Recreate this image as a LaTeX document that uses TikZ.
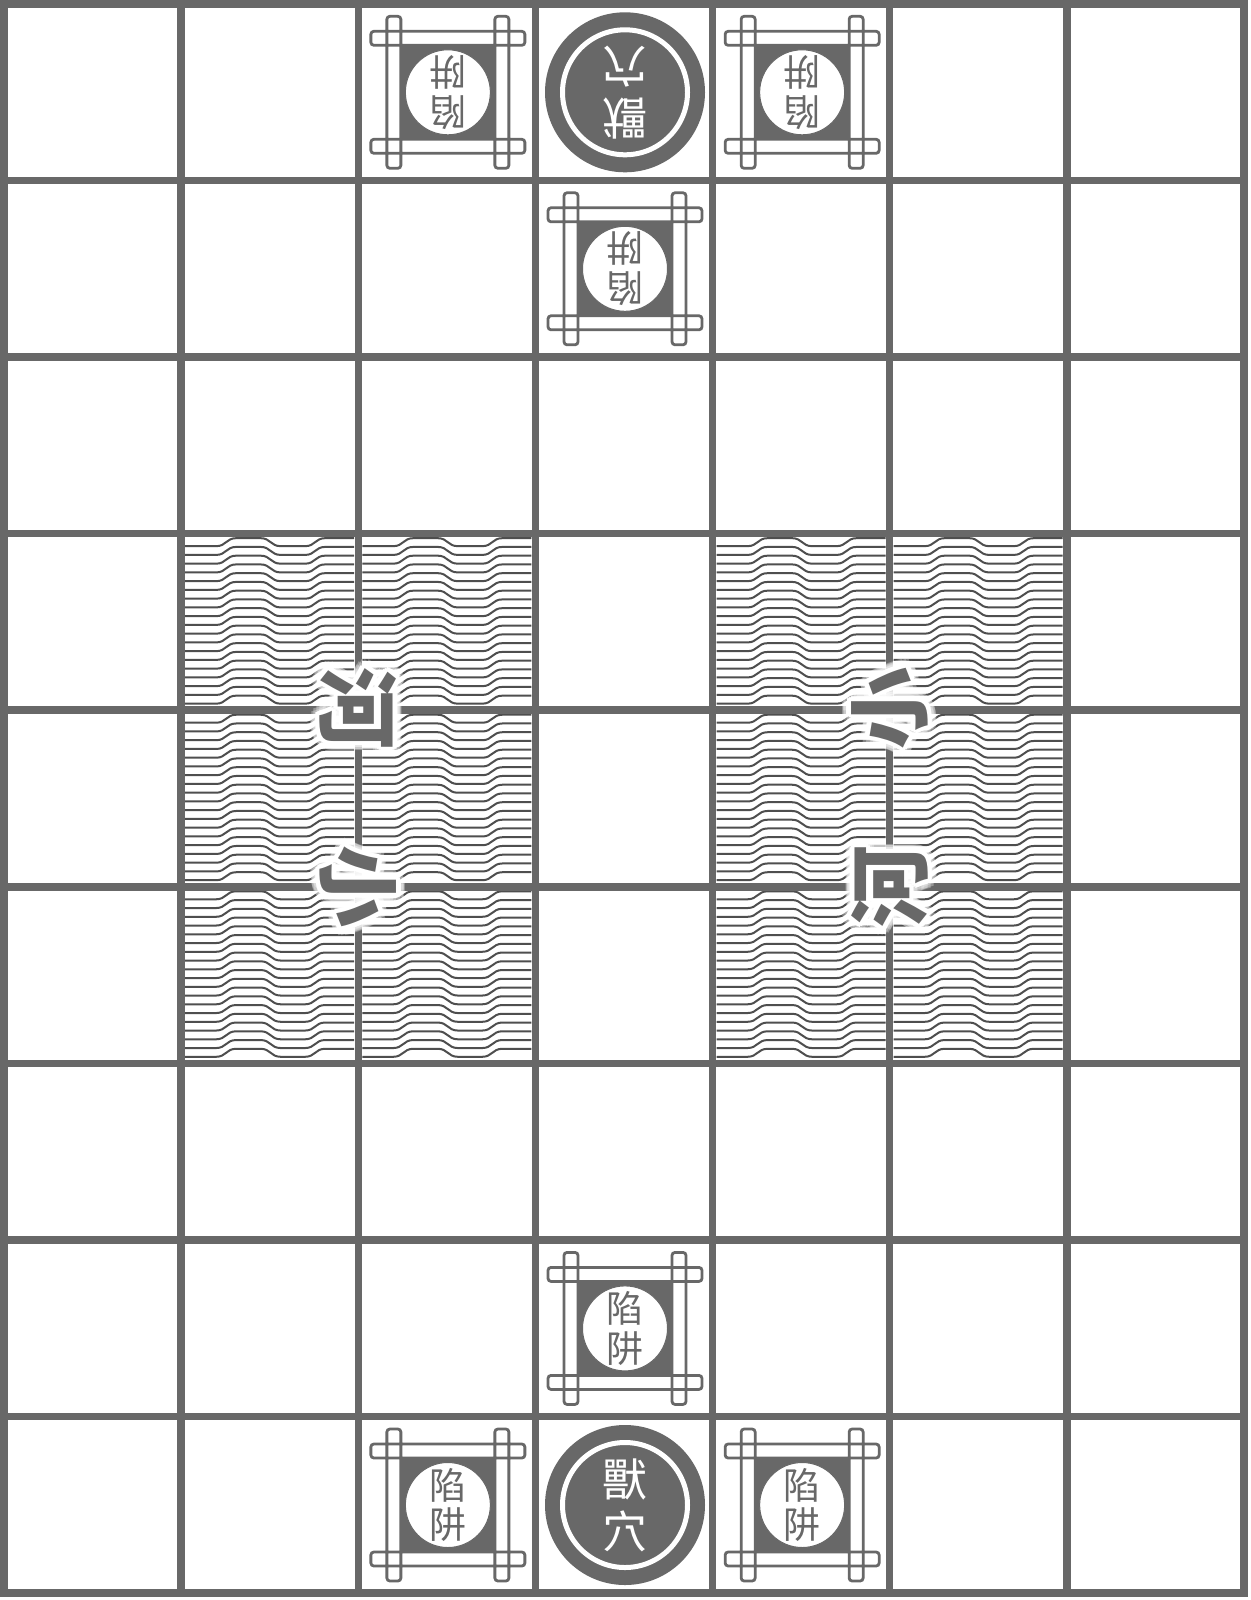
\documentclass[tikz,border=0pt]{standalone}
\usepackage{fontspec}
\newfontfamily\cjk{Noto Sans CJK TC}
\definecolor{lg}{RGB}{104,104,104}
\definecolor{wv}{RGB}{78,78,78}
\tikzset{
  gridline/.style={draw=lg, line width=3.75pt},
  wave/.style={draw=wv, line width=1pt},
  barline/.style={draw=lg, line width=1.4pt, rounded corners=1.5pt},
  trapch/.style={font=\cjk\fontsize{18.5}{18.5}\selectfont, text=lg, inner sep=0pt},
  dench/.style={font=\cjk\fontsize{22.5}{22.5}\selectfont, text=white, inner sep=0pt},
  rivch/.style={font=\cjk\bfseries\fontsize{41}{41}\selectfont, inner sep=0pt},
}
% trap: x y angle name
\newcommand\trapcell[4]{%
  \begin{scope}[shift={(#1,#2)}]
    \fill[lg] (-50,-50) rectangle (50,50);
    \fill[white] (-77,-61) rectangle (77,-47) (-77,47) rectangle (77,61)
                 (-61,-76) rectangle (-47,76) (47,-76) rectangle (61,76);
    \path[barline] (-77,-61) rectangle (77,-47) (-77,47) rectangle (77,61)
                 (-61,-76) rectangle (-47,76) (47,-76) rectangle (61,76);
    \filldraw[fill=white, draw=lg, line width=0.5pt] (0,0) circle[radius=42.5];
    \node[trapch, rotate=#3] (#4a) at (0,{-20*cos(#3)}) {陷};
    \node[trapch, rotate=#3] (#4b) at (0,{20*cos(#3)}) {阱};
  \end{scope}}
% den: x y angle name
\newcommand\dencell[4]{%
  \begin{scope}[shift={(#1,#2)}]
    \fill[lg] (0,0) circle[radius=80];
    \draw[white, line width=2.5pt] (0,0) circle[radius=62.5];
    \node[dench, rotate=#3] (#4a) at (0,{-26*cos(#3)}) {獸};
    \node[dench, rotate=#3] (#4b) at (0,{26*cos(#3)}) {穴};
  \end{scope}}
% river char: x y angle char name
\newcommand\rivchar[5]{%
  \foreach \a in {0,22.5,...,337.5}{\node[rivch, text=white, text opacity=0.3, rotate=#3] at ({#1+9*cos(\a)},{#2+9*sin(\a)}) {#4};}
  \foreach \a in {0,30,...,330}{\node[rivch, text=white, rotate=#3] at ({#1+4.5*cos(\a)},{#2+4.5*sin(\a)}) {#4};}
  \node[rivch, text=lg, rotate=#3] (#5) at (#1,#2) {#4};}

\begin{document}
\begin{tikzpicture}[x=0.5pt,y=-0.5pt]
\useasboundingbox (0,0) rectangle (1250,1600);
\fill[white] (0,0) rectangle (1250,1600);
% water
\foreach \c in {1,2,4,5}{\foreach \r in {3,4,5}{
  \pgfmathsetmacro\xo{4+177.143*\c}
  \pgfmathsetmacro\yo{4+176.556*\r}
  \begin{scope}
    \clip (\xo+4,\yo+4) rectangle (\xo+173,\yo+172.5);
    \foreach \k in {0,...,18}{
      \pgfmathsetmacro\yy{\yo+12.5+8.75*\k}
      \draw[wave] (\xo,\yy) -- ++(35,0) .. controls +(10,0) and +(-10,0) .. ++(20,-8)
        -- ++(24.5,0) .. controls +(10,0) and +(-10,0) .. ++(20,8)
        -- ++(24.5,0) .. controls +(10,0) and +(-10,0) .. ++(20,-8) -- ++(40,0);
    }
  \end{scope}
}}
% grid
\draw[gridline] (4,4) rectangle (1244,1593);
\foreach \i in {1,...,6}{\draw[gridline] ({4+177.143*\i},4) -- ({4+177.143*\i},1593);}
\foreach \j in {1,...,8}{\draw[gridline] (4,{4+176.556*\j}) -- (1244,{4+176.556*\j});}
% top side
\trapcell{447.86}{92.3}{180}{tA}
\trapcell{802.14}{92.3}{180}{tB}
\trapcell{625}{268.8}{180}{tC}
\dencell{625}{92.3}{180}{dT}
% bottom side
\trapcell{625}{1328.4}{0}{bC}
\trapcell{447.86}{1505}{0}{bA}
\trapcell{802.14}{1505}{0}{bB}
\dencell{625}{1505}{0}{dB}
% river labels
\rivchar{358.3}{708}{-90}{河}{rL1}
\rivchar{358.3}{886.8}{-90}{小}{rL2}
\rivchar{889.7}{708}{90}{小}{rR1}
\rivchar{889.7}{886.8}{90}{河}{rR2}
\end{tikzpicture}
\end{document}
